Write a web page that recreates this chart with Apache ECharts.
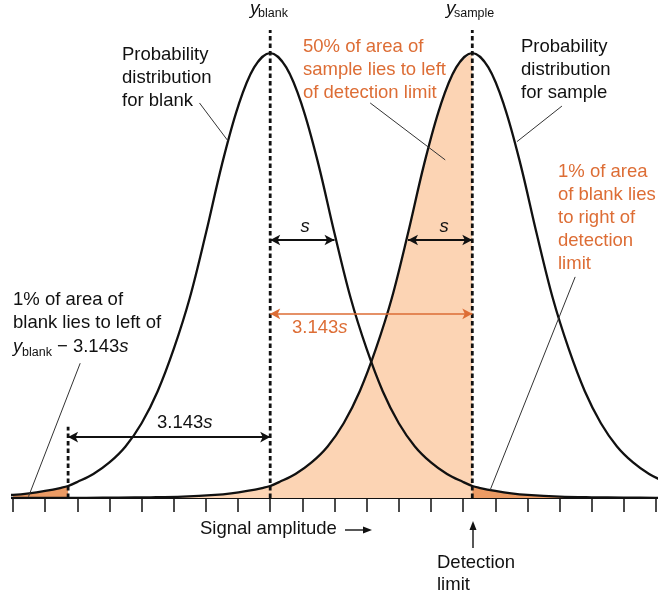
<!DOCTYPE html>
<html><head><meta charset="utf-8">
<script src="https://cdn.jsdelivr.net/npm/echarts@6/dist/echarts.min.js"></script>
<style>html,body{margin:0;padding:0;background:#fff}#c{width:659px;height:596px}</style>
</head><body><div id="c"></div>
<script>
// Relative curve height (peak = 100) read at distances from the curve centre (in units of s)
const profileOffset = [0, 0.25, 0.5, 0.75, 1, 1.25, 1.5, 1.75, 2, 2.25, 2.5, 2.75, 3, 3.143, 3.25, 3.5, 3.75, 4, 4.5, 5, 5.5, 6, 6.5, 7.25];
const profileHeight = [100, 96.8, 88, 75, 59.5, 45, 33.5, 24, 16.8, 11.6, 8.0, 5.4, 3.6, 2.7, 2.3, 1.6, 1.05, 0.7, 0.32, 0.16, 0.08, 0.04, 0.02, 0];
const blankCenter = 0;
const sampleCenter = 3.143;
const detectionLimit = 3.143;
const lowerLimit = -3.143;
const sArrowY = 58;
const orangeArrowY = 41.4;
const lowerArrowY = 13.7;
const lowerDashTop = 16;
const axisMin = -4, axisMax = 6, axisStep = 0.5;
const yTop = 105.2;

const ORANGE = '#dd6d35', LIGHT = '#fcd4b4', DARK = '#ec9b64', INK = '#111';
const FONT = '"Liberation Sans", Arial, sans-serif';

function curve(c) {
  const pts = [];
  for (let i = profileOffset.length - 1; i > 0; i--) pts.push([c - profileOffset[i], profileHeight[i]]);
  for (let i = 0; i < profileOffset.length; i++) pts.push([c + profileOffset[i], profileHeight[i]]);
  return pts;
}
const blank = curve(blankCenter);
const sample = curve(sampleCenter);
const eps = 1e-9;

function area(data, color) {
  return { type: 'line', data, smooth: 0.35, symbol: 'none', silent: true,
    lineStyle: { width: 0, opacity: 0 }, areaStyle: { color, opacity: 1 }, z: 1 };
}
function curveLine(data) {
  return { type: 'line', data, smooth: 0.35, symbol: 'none', silent: true,
    lineStyle: { width: 2.3, color: INK }, z: 3 };
}
function dashed(x, top) {
  return { type: 'line', data: [[x, 0], [x, top]], symbol: 'none', silent: true,
    lineStyle: { width: 2.8, color: INK, type: [4.5, 3] }, z: 4 };
}
function marks(lines, color, withArrows, width) {
  return { type: 'line', data: [], silent: true,
    markLine: { silent: true, animation: false,
      symbol: withArrows ? ['arrow', 'arrow'] : ['none', 'none'],
      symbolSize: [8, 10],
      label: { show: false }, emphasis: { disabled: true },
      lineStyle: { color, width, type: 'solid' },
      data: lines.map(l => [{ coord: [l[0], l[1]] }, { coord: [l[2], l[3]] }]) } };
}

function T(text, x, y, opts) {
  return { type: 'text', x, y, z: 100, silent: true,
    style: Object.assign({ text, fill: INK, font: '18.5px ' + FONT, lineHeight: 23,
      align: 'left', verticalAlign: 'middle', textAlign: 'left', textVerticalAlign: 'middle' }, opts || {}) };
}
const italic = 'italic 18.5px ' + FONT;
const richI = { i: { fontStyle: 'italic', fontSize: 18.5, fontFamily: FONT } };

const chart = echarts.init(document.getElementById('c'), null, { renderer: 'canvas' });
chart.setOption({
  animation: false,
  backgroundColor: '#fff',
  grid: { left: 13, right: 3, top: 30, bottom: 98 },
  xAxis: { type: 'value', min: axisMin, max: axisMax, interval: axisStep,
    axisLine: { show: true, onZero: false, lineStyle: { color: INK, width: 2 } },
    axisTick: { show: true, length: 14, lineStyle: { color: INK, width: 1.5 } },
    axisLabel: { show: false }, splitLine: { show: false } },
  yAxis: { type: 'value', min: 0, max: yTop, show: false, splitLine: { show: false } },
  series: [
    area(sample.filter(p => p[0] <= detectionLimit + eps), LIGHT),
    area(blank.filter(p => p[0] <= lowerLimit + eps), DARK),
    area(blank.filter(p => p[0] >= detectionLimit - eps), DARK),
    curveLine(blank),
    curveLine(sample),
    dashed(blankCenter, yTop),
    dashed(sampleCenter, yTop),
    dashed(lowerLimit, lowerDashTop),
    marks([[blankCenter, sArrowY, blankCenter + 1, sArrowY],
           [sampleCenter - 1, sArrowY, sampleCenter, sArrowY],
           [lowerLimit, lowerArrowY, blankCenter, lowerArrowY]], INK, true, 1.8),
    marks([[blankCenter, orangeArrowY, detectionLimit, orangeArrowY]], ORANGE, true, 1.6),
    marks([[-1.10, 88.8, -0.658, 80.3],
           [1.555, 88.8, 2.722, 76.0],
           [4.537, 88.1, 3.837, 80.1],
           [4.743, 49.7, 3.421, 1.8],
           [-2.955, 30.3, -3.759, 0.3]], '#333', false, 1)
  ],
  graphic: [
    T('y', 250, 9, { font: 'italic 19px ' + FONT }),
    T('blank', 258, 14, { font: '12.5px ' + FONT }),
    T('y', 446, 9, { font: 'italic 19px ' + FONT }),
    T('sample', 454, 14, { font: '12.5px ' + FONT }),
    T('Probability\ndistribution\nfor blank', 122, 78),
    T('50% of area of\nsample lies to left\nof detection limit', 303, 70, { fill: ORANGE }),
    T('Probability\ndistribution\nfor sample', 521, 70),
    T('1% of area\nof blank lies\nto right of\ndetection\nlimit', 558, 218, { fill: ORANGE }),
    T('1% of area of\nblank lies to left of', 13, 311),
    T('y', 13, 346.5, { font: italic }),
    T('blank', 22, 353, { font: '12.5px ' + FONT }),
    T('− 3.143{i|s}', 57, 346.5, { rich: richI }),
    T('s', 305, 227, { font: italic, align: 'center', textAlign: 'center' }),
    T('s', 444, 227, { font: italic, align: 'center', textAlign: 'center' }),
    T('3.143{i|s}', 292, 328, { fill: ORANGE, rich: { i: { fontStyle: 'italic', fontSize: 18.5, fontFamily: FONT, color: ORANGE } } }),
    T('3.143{i|s}', 157, 423, { rich: richI }),
    T('Signal amplitude', 200, 529),
    T('Detection\nlimit', 437, 574, { lineHeight: 22 }),
    { type: 'line', z: 100, silent: true, shape: { x1: 345, y1: 530, x2: 366, y2: 530 }, style: { stroke: INK, lineWidth: 1.4 } },
    { type: 'polygon', z: 100, silent: true, shape: { points: [[372, 530], [363, 526.5], [363, 533.5]] }, style: { fill: INK } },
    { type: 'line', z: 100, silent: true, shape: { x1: 473, y1: 548, x2: 473, y2: 528 }, style: { stroke: INK, lineWidth: 1.4 } },
    { type: 'polygon', z: 100, silent: true, shape: { points: [[473, 521], [469.5, 530], [476.5, 530]] }, style: { fill: INK } }
  ]
});
</script></body></html>
